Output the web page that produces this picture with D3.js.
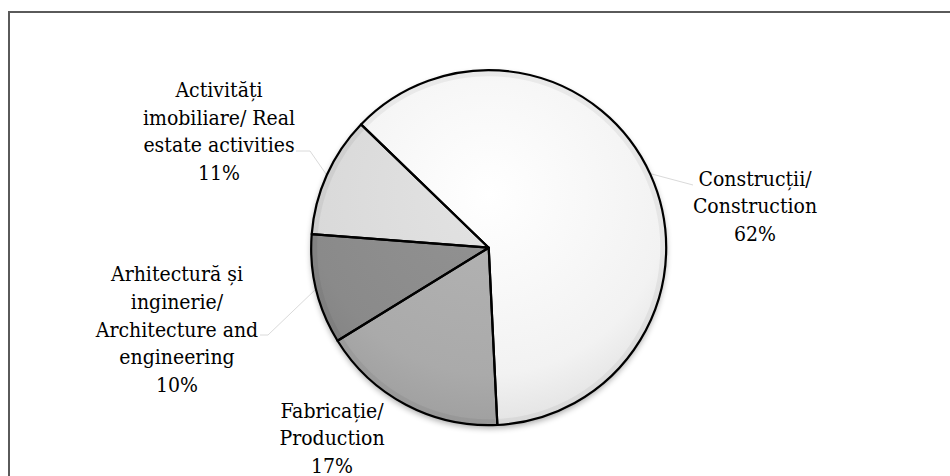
<!DOCTYPE html>
<html>
<head>
<meta charset="utf-8">
<script src="https://cdn.jsdelivr.net/npm/d3@7"></script>
<style>
  html, body { margin: 0; padding: 0; background: #fff; }
  svg { display: block; }
  .lbl { font-family: "DejaVu Serif Condensed", "DejaVu Serif", serif; font-stretch: condensed; }
</style>
</head>
<body>
<div id="canvas"></div>
<script>
// data, in the order the slices run clockwise
const categories = [
  ["Construcții/", "Construction"],
  ["Fabricație/", "Production"],
  ["Arhitectură și", "inginerie/", "Architecture and", "engineering"],
  ["Activități", "imobiliare/ Real", "estate activities"]
];
const values = [62, 17, 10, 11];

// look
const width = 950, height = 476;
const cx = 488.7, cy = 247.7, radius = 177.5;
const startDeg = -46;
const baseColors = ["#f2f2f2", "#aaaaaa", "#8a8a8a", "#d9d9d9"];
const lightColors = ["#ffffff", "#b4b4b4", "#939393", "#e3e3e3"];
const fontSize = 21, lineHeight = 27.6;

// label block: center x and baseline of the last line (the percent)
const labelPos = [
  { x: 755, y: 241 },
  { x: 332, y: 472.7 },
  { x: 177, y: 391.7 },
  { x: 219, y: 180 }
];
// leader lines (label side -> slice edge)
const leaders = [
  [[693, 185], [648, 173]],
  null,
  [[260, 335], [268, 335], [316, 289]],
  [[296, 151], [310, 151], [326, 174]]
];

const svg = d3.select("#canvas")
  .append("svg")
  .attr("width", width)
  .attr("height", height);

const defs = svg.append("defs");

const shadow = defs.append("filter")
  .attr("id", "shadow")
  .attr("x", "-20%").attr("y", "-20%")
  .attr("width", "140%").attr("height", "140%");
shadow.append("feGaussianBlur").attr("in", "SourceAlpha").attr("stdDeviation", 3);
shadow.append("feOffset").attr("dx", 0).attr("dy", 3).attr("result", "blur");
shadow.append("feComponentTransfer").append("feFuncA").attr("type", "linear").attr("slope", 0.35);
const merge = shadow.append("feMerge");
merge.append("feMergeNode");
merge.append("feMergeNode").attr("in", "SourceGraphic");

// gradients live in the pie group's local space (origin = pie center)
baseColors.forEach((c, i) => {
  const g = defs.append("radialGradient")
    .attr("id", "grad" + i)
    .attr("gradientUnits", "userSpaceOnUse")
    .attr("cx", 0).attr("cy", -radius * 0.3)
    .attr("fx", 0).attr("fy", -radius * 0.3)
    .attr("r", radius * 1.35);
  g.append("stop").attr("offset", "0%").attr("stop-color", lightColors[i]);
  g.append("stop").attr("offset", "75%").attr("stop-color", c);
  g.append("stop").attr("offset", "100%").attr("stop-color", d3.color(c).darker(0.2));
});

// frame (right and bottom edges run off the page)
svg.append("rect")
  .attr("x", 9).attr("y", 12)
  .attr("width", width + 20).attr("height", height + 20)
  .attr("fill", "none")
  .attr("stroke", "#5a5a5a")
  .attr("stroke-width", 2);

// leader lines
svg.append("g")
  .selectAll("path")
  .data(leaders.filter(d => d))
  .join("path")
  .attr("d", d => d3.line()(d))
  .attr("fill", "none")
  .attr("stroke", "#dadada")
  .attr("stroke-width", 1);

const pie = d3.pie()
  .sort(null)
  .value(d => d)
  .startAngle(startDeg * Math.PI / 180)
  .endAngle(startDeg * Math.PI / 180 + 2 * Math.PI);

const arc = d3.arc().innerRadius(0).outerRadius(radius);
const bevel = d3.arc().innerRadius(radius - 6).outerRadius(radius);
const arcs = pie(values);

const pieG = svg.append("g")
  .attr("transform", `translate(${cx},${cy})`);

pieG.append("circle")
  .attr("r", radius)
  .attr("fill", "#fff")
  .attr("filter", "url(#shadow)");

pieG.append("g")
  .selectAll("path")
  .data(arcs)
  .join("path")
  .attr("d", arc)
  .attr("fill", (d, i) => `url(#grad${i})`);

// soft darker band just inside the rim
pieG.append("g")
  .selectAll("path")
  .data(arcs)
  .join("path")
  .attr("d", bevel)
  .attr("fill", "#000")
  .attr("opacity", 0.05);

pieG.append("g")
  .selectAll("path")
  .data(arcs)
  .join("path")
  .attr("d", arc)
  .attr("fill", "none")
  .attr("stroke", "#000")
  .attr("stroke-width", 2.2)
  .attr("stroke-linejoin", "round");

// labels
const total = d3.sum(values);
const labels = svg.append("g")
  .selectAll("text")
  .data(categories)
  .join("text")
  .attr("class", "lbl")
  .attr("text-anchor", "middle")
  .attr("font-size", fontSize)
  .attr("fill", "#000");

labels.each(function(lines, i) {
  const all = lines.concat([Math.round(values[i] / total * 100) + "%"]);
  const n = all.length;
  d3.select(this).selectAll("tspan")
    .data(all)
    .join("tspan")
    .attr("x", labelPos[i].x)
    .attr("y", (d, k) => labelPos[i].y - (n - 1 - k) * lineHeight)
    .text(d => d);
});
</script>
</body>
</html>
